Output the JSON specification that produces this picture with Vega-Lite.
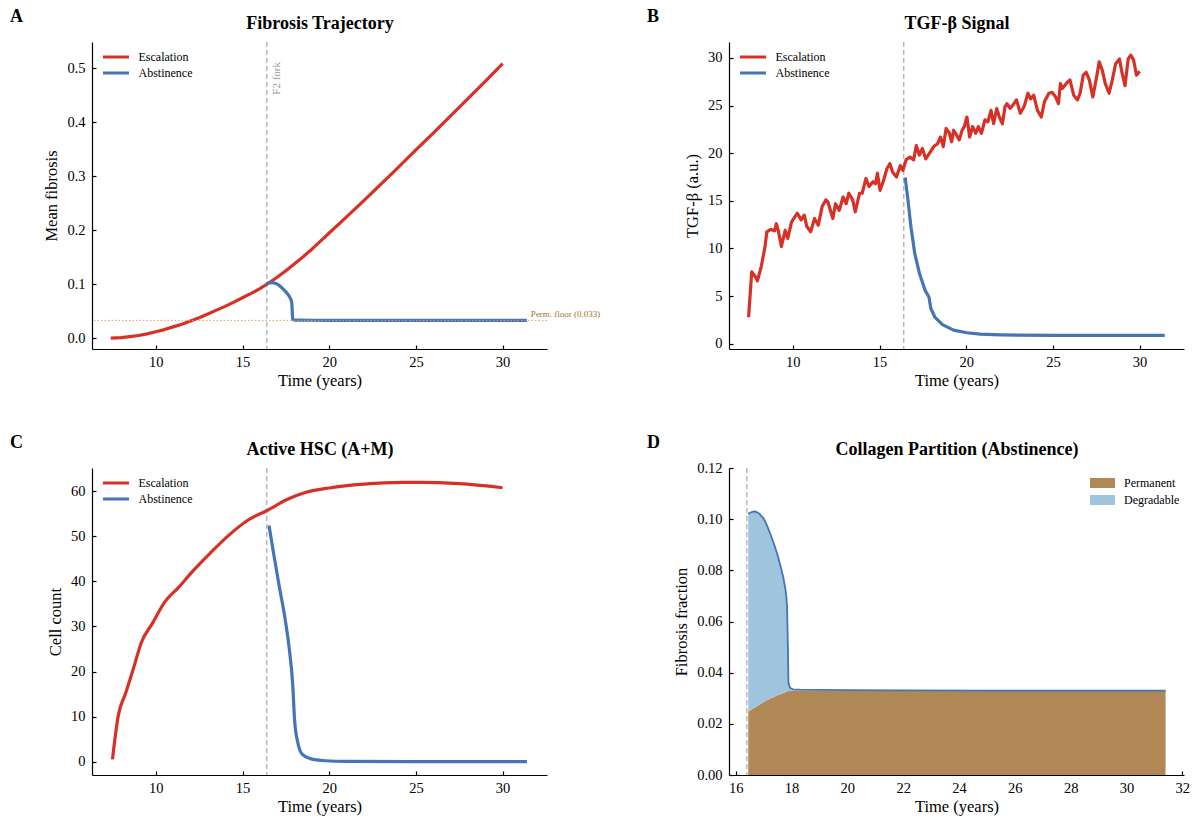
{
  "$schema": "https://vega.github.io/schema/vega-lite/v6.json",
  "background": "white",
  "padding": {"left": 10, "top": 8, "right": 5, "bottom": 5},
  "config": {
    "font": "Liberation Serif",
    "view": {"stroke": null},
    "axis": {"grid": false, "domainColor": "#000000", "domainWidth": 1.2, "tickColor": "#000000", "tickWidth": 1.2, "tickSize": -4, "labelFontSize": 14.5, "labelColor": "#000000", "titleFontSize": 16.5, "titleFontWeight": "normal", "titleColor": "#000000", "labelPadding": 11, "titlePadding": 7},
    "axisX": {"labelPadding": 10, "titlePadding": 4},
    "legend": {"labelFontSize": 12, "labelColor": "#000000"},
    "line": {"strokeJoin": "round"}
  },
  "resolve": {"scale": {"color": "independent"}, "legend": {"color": "independent"}},
  "datasets": {
    "fib": [
      {"t": 7.4, "v": 0.0, "s": "Escalation"}, {"t": 8, "v": 0.001, "s": "Escalation"}, {"t": 8.5, "v": 0.003, "s": "Escalation"}, {"t": 9, "v": 0.005, "s": "Escalation"}, {"t": 9.5, "v": 0.008, "s": "Escalation"}, {"t": 10, "v": 0.012, "s": "Escalation"}, {"t": 10.5, "v": 0.016, "s": "Escalation"}, {"t": 11, "v": 0.021, "s": "Escalation"}, {"t": 11.5, "v": 0.026, "s": "Escalation"}, {"t": 12, "v": 0.032, "s": "Escalation"}, {"t": 12.5, "v": 0.038, "s": "Escalation"}, {"t": 13, "v": 0.045, "s": "Escalation"}, {"t": 13.5, "v": 0.052, "s": "Escalation"}, {"t": 14, "v": 0.059, "s": "Escalation"}, {"t": 14.5, "v": 0.067, "s": "Escalation"}, {"t": 15, "v": 0.075, "s": "Escalation"}, {"t": 15.5, "v": 0.083, "s": "Escalation"}, {"t": 16, "v": 0.092, "s": "Escalation"}, {"t": 16.4, "v": 0.1, "s": "Escalation"}, {"t": 17, "v": 0.113, "s": "Escalation"}, {"t": 17.5, "v": 0.125, "s": "Escalation"}, {"t": 18, "v": 0.138, "s": "Escalation"}, {"t": 18.5, "v": 0.151, "s": "Escalation"}, {"t": 19, "v": 0.165, "s": "Escalation"}, {"t": 19.5, "v": 0.18, "s": "Escalation"}, {"t": 20, "v": 0.195, "s": "Escalation"}, {"t": 21, "v": 0.225, "s": "Escalation"}, {"t": 22, "v": 0.255, "s": "Escalation"}, {"t": 23, "v": 0.286, "s": "Escalation"}, {"t": 24, "v": 0.317, "s": "Escalation"}, {"t": 25, "v": 0.349, "s": "Escalation"}, {"t": 26, "v": 0.38, "s": "Escalation"}, {"t": 27, "v": 0.412, "s": "Escalation"}, {"t": 28, "v": 0.444, "s": "Escalation"}, {"t": 29, "v": 0.476, "s": "Escalation"}, {"t": 30, "v": 0.509, "s": "Escalation"},
      {"t": 16.4, "v": 0.1005, "s": "Abstinence"}, {"t": 16.45, "v": 0.1021, "s": "Abstinence"}, {"t": 16.55, "v": 0.1027, "s": "Abstinence"}, {"t": 16.65, "v": 0.103, "s": "Abstinence"}, {"t": 16.75, "v": 0.1028, "s": "Abstinence"}, {"t": 16.85, "v": 0.1021, "s": "Abstinence"}, {"t": 17.0, "v": 0.1003, "s": "Abstinence"}, {"t": 17.12, "v": 0.0976, "s": "Abstinence"}, {"t": 17.25, "v": 0.094, "s": "Abstinence"}, {"t": 17.39, "v": 0.0897, "s": "Abstinence"}, {"t": 17.5, "v": 0.086, "s": "Abstinence"}, {"t": 17.6, "v": 0.0819, "s": "Abstinence"}, {"t": 17.7, "v": 0.0775, "s": "Abstinence"}, {"t": 17.78, "v": 0.0728, "s": "Abstinence"}, {"t": 17.82, "v": 0.069, "s": "Abstinence"}, {"t": 17.84, "v": 0.066, "s": "Abstinence"}, {"t": 17.87, "v": 0.05, "s": "Abstinence"}, {"t": 17.89, "v": 0.036, "s": "Abstinence"}, {"t": 17.95, "v": 0.034, "s": "Abstinence"}, {"t": 18.05, "v": 0.0335, "s": "Abstinence"}, {"t": 18.3, "v": 0.0334, "s": "Abstinence"}, {"t": 19, "v": 0.0333, "s": "Abstinence"}, {"t": 20, "v": 0.0332, "s": "Abstinence"}, {"t": 22, "v": 0.0331, "s": "Abstinence"}, {"t": 25, "v": 0.033, "s": "Abstinence"}, {"t": 28, "v": 0.033, "s": "Abstinence"}, {"t": 31.4, "v": 0.033, "s": "Abstinence"}
    ],
    "tgf": [
      {"t": 7.45, "v": 2.8, "s": "Escalation"}, {"t": 7.63, "v": 7.55, "s": "Escalation"}, {"t": 7.85, "v": 7.0, "s": "Escalation"}, {"t": 7.96, "v": 6.6, "s": "Escalation"}, {"t": 8.18, "v": 8.1, "s": "Escalation"}, {"t": 8.4, "v": 10.2, "s": "Escalation"}, {"t": 8.5, "v": 11.75, "s": "Escalation"}, {"t": 8.73, "v": 12.0, "s": "Escalation"}, {"t": 8.95, "v": 11.85, "s": "Escalation"}, {"t": 9.05, "v": 12.6, "s": "Escalation"}, {"t": 9.16, "v": 11.9, "s": "Escalation"}, {"t": 9.34, "v": 10.2, "s": "Escalation"}, {"t": 9.56, "v": 11.9, "s": "Escalation"}, {"t": 9.71, "v": 11.05, "s": "Escalation"}, {"t": 9.93, "v": 12.8, "s": "Escalation"}, {"t": 10.26, "v": 13.7, "s": "Escalation"}, {"t": 10.48, "v": 13.0, "s": "Escalation"}, {"t": 10.66, "v": 13.5, "s": "Escalation"}, {"t": 10.81, "v": 12.3, "s": "Escalation"}, {"t": 11.03, "v": 11.75, "s": "Escalation"}, {"t": 11.25, "v": 13.15, "s": "Escalation"}, {"t": 11.47, "v": 12.45, "s": "Escalation"}, {"t": 11.69, "v": 14.4, "s": "Escalation"}, {"t": 11.91, "v": 15.1, "s": "Escalation"}, {"t": 12.02, "v": 14.9, "s": "Escalation"}, {"t": 12.31, "v": 13.15, "s": "Escalation"}, {"t": 12.46, "v": 14.7, "s": "Escalation"}, {"t": 12.68, "v": 14.0, "s": "Escalation"}, {"t": 12.9, "v": 15.4, "s": "Escalation"}, {"t": 13.08, "v": 14.7, "s": "Escalation"}, {"t": 13.23, "v": 15.8, "s": "Escalation"}, {"t": 13.45, "v": 15.1, "s": "Escalation"}, {"t": 13.6, "v": 13.85, "s": "Escalation"}, {"t": 13.85, "v": 15.8, "s": "Escalation"}, {"t": 14.0, "v": 15.8, "s": "Escalation"}, {"t": 14.22, "v": 17.35, "s": "Escalation"}, {"t": 14.4, "v": 16.5, "s": "Escalation"}, {"t": 14.62, "v": 17.0, "s": "Escalation"}, {"t": 14.77, "v": 16.8, "s": "Escalation"}, {"t": 14.88, "v": 17.9, "s": "Escalation"}, {"t": 15.03, "v": 16.1, "s": "Escalation"}, {"t": 15.21, "v": 17.0, "s": "Escalation"}, {"t": 15.43, "v": 18.4, "s": "Escalation"}, {"t": 15.6, "v": 18.9, "s": "Escalation"}, {"t": 15.76, "v": 18.0, "s": "Escalation"}, {"t": 15.98, "v": 17.5, "s": "Escalation"}, {"t": 16.2, "v": 18.7, "s": "Escalation"}, {"t": 16.35, "v": 18.2, "s": "Escalation"}, {"t": 16.53, "v": 19.3, "s": "Escalation"}, {"t": 16.75, "v": 19.6, "s": "Escalation"}, {"t": 16.97, "v": 19.3, "s": "Escalation"}, {"t": 17.12, "v": 20.8, "s": "Escalation"}, {"t": 17.3, "v": 19.8, "s": "Escalation"}, {"t": 17.47, "v": 20.5, "s": "Escalation"}, {"t": 17.67, "v": 19.4, "s": "Escalation"}, {"t": 17.91, "v": 20.1, "s": "Escalation"}, {"t": 18.13, "v": 20.7, "s": "Escalation"}, {"t": 18.35, "v": 21.0, "s": "Escalation"}, {"t": 18.51, "v": 21.7, "s": "Escalation"}, {"t": 18.68, "v": 20.7, "s": "Escalation"}, {"t": 18.84, "v": 22.6, "s": "Escalation"}, {"t": 19.01, "v": 22.2, "s": "Escalation"}, {"t": 19.16, "v": 21.2, "s": "Escalation"}, {"t": 19.27, "v": 22.4, "s": "Escalation"}, {"t": 19.38, "v": 22.1, "s": "Escalation"}, {"t": 19.6, "v": 21.4, "s": "Escalation"}, {"t": 19.76, "v": 22.4, "s": "Escalation"}, {"t": 19.89, "v": 22.8, "s": "Escalation"}, {"t": 20.04, "v": 23.8, "s": "Escalation"}, {"t": 20.2, "v": 21.7, "s": "Escalation"}, {"t": 20.37, "v": 22.8, "s": "Escalation"}, {"t": 20.55, "v": 22.1, "s": "Escalation"}, {"t": 20.7, "v": 22.8, "s": "Escalation"}, {"t": 20.88, "v": 22.1, "s": "Escalation"}, {"t": 21.08, "v": 23.5, "s": "Escalation"}, {"t": 21.25, "v": 23.3, "s": "Escalation"}, {"t": 21.43, "v": 24.5, "s": "Escalation"}, {"t": 21.58, "v": 23.1, "s": "Escalation"}, {"t": 21.76, "v": 24.7, "s": "Escalation"}, {"t": 21.91, "v": 23.8, "s": "Escalation"}, {"t": 22.09, "v": 23.1, "s": "Escalation"}, {"t": 22.24, "v": 24.9, "s": "Escalation"}, {"t": 22.35, "v": 25.2, "s": "Escalation"}, {"t": 22.53, "v": 24.7, "s": "Escalation"}, {"t": 22.75, "v": 25.2, "s": "Escalation"}, {"t": 22.9, "v": 25.6, "s": "Escalation"}, {"t": 23.12, "v": 24.2, "s": "Escalation"}, {"t": 23.34, "v": 24.9, "s": "Escalation"}, {"t": 23.56, "v": 26.3, "s": "Escalation"}, {"t": 23.71, "v": 25.7, "s": "Escalation"}, {"t": 23.89, "v": 26.1, "s": "Escalation"}, {"t": 24.11, "v": 24.5, "s": "Escalation"}, {"t": 24.33, "v": 23.8, "s": "Escalation"}, {"t": 24.51, "v": 25.4, "s": "Escalation"}, {"t": 24.77, "v": 26.3, "s": "Escalation"}, {"t": 24.95, "v": 26.4, "s": "Escalation"}, {"t": 25.16, "v": 25.9, "s": "Escalation"}, {"t": 25.32, "v": 25.2, "s": "Escalation"}, {"t": 25.43, "v": 27.3, "s": "Escalation"}, {"t": 25.54, "v": 26.8, "s": "Escalation"}, {"t": 25.76, "v": 27.3, "s": "Escalation"}, {"t": 25.98, "v": 27.7, "s": "Escalation"}, {"t": 26.2, "v": 26.1, "s": "Escalation"}, {"t": 26.42, "v": 25.6, "s": "Escalation"}, {"t": 26.57, "v": 26.3, "s": "Escalation"}, {"t": 26.75, "v": 28.2, "s": "Escalation"}, {"t": 26.92, "v": 28.5, "s": "Escalation"}, {"t": 27.1, "v": 27.7, "s": "Escalation"}, {"t": 27.3, "v": 25.9, "s": "Escalation"}, {"t": 27.52, "v": 28.0, "s": "Escalation"}, {"t": 27.67, "v": 29.6, "s": "Escalation"}, {"t": 27.85, "v": 28.7, "s": "Escalation"}, {"t": 28.02, "v": 27.3, "s": "Escalation"}, {"t": 28.24, "v": 26.3, "s": "Escalation"}, {"t": 28.4, "v": 27.5, "s": "Escalation"}, {"t": 28.62, "v": 29.4, "s": "Escalation"}, {"t": 28.84, "v": 29.9, "s": "Escalation"}, {"t": 28.99, "v": 28.4, "s": "Escalation"}, {"t": 29.16, "v": 27.1, "s": "Escalation"}, {"t": 29.34, "v": 29.9, "s": "Escalation"}, {"t": 29.49, "v": 30.3, "s": "Escalation"}, {"t": 29.65, "v": 29.8, "s": "Escalation"}, {"t": 29.82, "v": 28.2, "s": "Escalation"}, {"t": 30.0, "v": 28.6, "s": "Escalation"},
      {"t": 16.48, "v": 17.45, "s": "Abstinence"}, {"t": 16.64, "v": 15.1, "s": "Abstinence"}, {"t": 16.81, "v": 12.3, "s": "Abstinence"}, {"t": 17.03, "v": 9.5, "s": "Abstinence"}, {"t": 17.3, "v": 7.4, "s": "Abstinence"}, {"t": 17.63, "v": 5.6, "s": "Abstinence"}, {"t": 17.85, "v": 4.9, "s": "Abstinence"}, {"t": 17.96, "v": 3.7, "s": "Abstinence"}, {"t": 18.19, "v": 2.8, "s": "Abstinence"}, {"t": 18.63, "v": 2.0, "s": "Abstinence"}, {"t": 19.27, "v": 1.43, "s": "Abstinence"}, {"t": 20.04, "v": 1.15, "s": "Abstinence"}, {"t": 20.81, "v": 1.01, "s": "Abstinence"}, {"t": 22, "v": 0.93, "s": "Abstinence"}, {"t": 23, "v": 0.9, "s": "Abstinence"}, {"t": 25, "v": 0.88, "s": "Abstinence"}, {"t": 28, "v": 0.88, "s": "Abstinence"}, {"t": 31.45, "v": 0.88, "s": "Abstinence"}
    ],
    "hsc": [
      {"t": 7.5, "v": 0.5, "s": "Escalation"}, {"t": 7.83, "v": 10.1, "s": "Escalation"}, {"t": 8.27, "v": 15.3, "s": "Escalation"}, {"t": 8.72, "v": 20.8, "s": "Escalation"}, {"t": 9.16, "v": 26.4, "s": "Escalation"}, {"t": 9.82, "v": 30.8, "s": "Escalation"}, {"t": 10.49, "v": 35.3, "s": "Escalation"}, {"t": 11.37, "v": 38.9, "s": "Escalation"}, {"t": 12.04, "v": 41.9, "s": "Escalation"}, {"t": 13.14, "v": 46.3, "s": "Escalation"}, {"t": 14.25, "v": 50.4, "s": "Escalation"}, {"t": 15.35, "v": 53.7, "s": "Escalation"}, {"t": 16.39, "v": 55.7, "s": "Escalation"}, {"t": 17.57, "v": 58.2, "s": "Escalation"}, {"t": 18.67, "v": 59.8, "s": "Escalation"}, {"t": 20.0, "v": 60.75, "s": "Escalation"}, {"t": 22.0, "v": 61.6, "s": "Escalation"}, {"t": 24.2, "v": 62.0, "s": "Escalation"}, {"t": 25.3, "v": 62.0, "s": "Escalation"}, {"t": 27.5, "v": 61.7, "s": "Escalation"}, {"t": 30.0, "v": 60.8, "s": "Escalation"},
      {"t": 16.53, "v": 52.4, "s": "Abstinence"}, {"t": 16.79, "v": 46.3, "s": "Abstinence"}, {"t": 17.12, "v": 38.9, "s": "Abstinence"}, {"t": 17.46, "v": 31.6, "s": "Abstinence"}, {"t": 17.68, "v": 25.6, "s": "Abstinence"}, {"t": 17.9, "v": 16.8, "s": "Abstinence"}, {"t": 18.0, "v": 9.4, "s": "Abstinence"}, {"t": 18.19, "v": 4.2, "s": "Abstinence"}, {"t": 18.45, "v": 1.6, "s": "Abstinence"}, {"t": 18.9, "v": 0.67, "s": "Abstinence"}, {"t": 19.78, "v": 0.2, "s": "Abstinence"}, {"t": 21, "v": 0.05, "s": "Abstinence"}, {"t": 25, "v": 0.0, "s": "Abstinence"}, {"t": 31.4, "v": 0.0, "s": "Abstinence"}
    ],
    "col": [
      {"t": 16.45, "perm": 0.0248, "total": 0.1021}, {"t": 16.55, "perm": 0.0255, "total": 0.1027}, {"t": 16.65, "perm": 0.0262, "total": 0.103}, {"t": 16.75, "perm": 0.0268, "total": 0.1028}, {"t": 16.85, "perm": 0.0275, "total": 0.1021}, {"t": 17.0, "perm": 0.0285, "total": 0.1003}, {"t": 17.12, "perm": 0.0292, "total": 0.0976}, {"t": 17.25, "perm": 0.0299, "total": 0.094}, {"t": 17.39, "perm": 0.0306, "total": 0.0897}, {"t": 17.5, "perm": 0.0312, "total": 0.086}, {"t": 17.6, "perm": 0.0316, "total": 0.0819}, {"t": 17.7, "perm": 0.032, "total": 0.0775}, {"t": 17.78, "perm": 0.0323, "total": 0.0728}, {"t": 17.82, "perm": 0.0325, "total": 0.069}, {"t": 17.84, "perm": 0.0326, "total": 0.066}, {"t": 17.87, "perm": 0.0327, "total": 0.05}, {"t": 17.89, "perm": 0.0328, "total": 0.036}, {"t": 17.95, "perm": 0.0329, "total": 0.034}, {"t": 18.05, "perm": 0.033, "total": 0.0335}, {"t": 18.3, "perm": 0.033, "total": 0.0334}, {"t": 19, "perm": 0.033, "total": 0.0333}, {"t": 20, "perm": 0.0329, "total": 0.0332}, {"t": 22, "perm": 0.0329, "total": 0.0331}, {"t": 25, "perm": 0.0329, "total": 0.033}, {"t": 28, "perm": 0.0328, "total": 0.033}, {"t": 31.4, "perm": 0.0328, "total": 0.033}
    ]
  },
  "columns": 2,
  "bounds": "flush",
  "spacing": {"row": 119, "column": 182},
  "concat": [
    {
      "width": 455, "height": 307,
      "title": {"text": "A", "anchor": "start", "frame": "group", "dx": -82, "dy": 16, "fontSize": 18, "fontWeight": "bold", "color": "#000000"},
      "resolve": {"axis": {"x": "independent", "y": "independent"}},
      "layer": [
        {"data": {"values": [{}]}, "mark": {"type": "rule", "color": "#a8a8a8", "strokeDash": [5, 3], "strokeWidth": 1.2},
         "encoding": {"x": {"datum": 16.4, "type": "quantitative", "scale": {"domain": [6.32, 32.56], "nice": false, "zero": false}, "axis": {"orient": "top", "title": "Fibrosis Trajectory", "labels": false, "ticks": false, "domain": false, "titleFontSize": 18, "titleFontWeight": "bold", "titlePadding": 10}}}},
        {"data": {"name": "fib"}, "mark": {"type": "line", "strokeWidth": 3.2},
         "encoding": {
           "x": {"field": "t", "type": "quantitative", "scale": {"domain": [6.32, 32.56], "nice": false, "zero": false}, "axis": {"title": "Time (years)", "values": [10, 15, 20, 25, 30]}},
           "y": {"field": "v", "type": "quantitative", "scale": {"domain": [-0.02, 0.549], "nice": false, "zero": false}, "axis": {"title": "Mean fibrosis", "values": [0, 0.1, 0.2, 0.3, 0.4, 0.5], "format": ".1f"}},
           "color": {"field": "s", "type": "nominal", "scale": {"domain": ["Escalation", "Abstinence"], "range": ["#d73027", "#4575b4"]}, "legend": {"title": null, "orient": "none", "legendX": 9.5, "legendY": 7, "symbolType": "stroke", "symbolSize": 676, "symbolStrokeWidth": 3, "clipHeight": 16, "rowPadding": 0, "labelOffset": 8}}
         }},
        {"data": {"values": [{}]}, "mark": {"type": "rule", "color": "#dba06a", "strokeDash": [1.5, 2], "strokeWidth": 1},
         "encoding": {"y": {"datum": 0.033, "type": "quantitative", "axis": null}}},
        {"data": {"values": [{}]}, "mark": {"type": "text", "text": "F2 fork", "angle": 270, "align": "right", "baseline": "top", "fontSize": 11, "color": "#999999"},
         "encoding": {"x": {"datum": 16.63, "type": "quantitative", "axis": null}, "y": {"datum": 0.512, "type": "quantitative", "axis": null}}},
        {"data": {"values": [{}]}, "mark": {"type": "text", "text": "Perm. floor (0.033)", "align": "left", "baseline": "alphabetic", "dy": -3, "fontSize": 9, "color": "#a6702a"},
         "encoding": {"x": {"datum": 31.63, "type": "quantitative", "axis": null}, "y": {"datum": 0.033, "type": "quantitative", "axis": null}}}
      ]
    },
    {
      "width": 455, "height": 307,
      "title": {"text": "B", "anchor": "start", "frame": "group", "dx": -82, "dy": 16, "fontSize": 18, "fontWeight": "bold", "color": "#000000"},
      "resolve": {"axis": {"x": "independent", "y": "independent"}},
      "layer": [
        {"data": {"values": [{}]}, "mark": {"type": "rule", "color": "#a8a8a8", "strokeDash": [5, 3], "strokeWidth": 1.2},
         "encoding": {"x": {"datum": 16.4, "type": "quantitative", "scale": {"domain": [6.32, 32.56], "nice": false, "zero": false}, "axis": {"orient": "top", "title": "TGF-β Signal", "labels": false, "ticks": false, "domain": false, "titleFontSize": 18, "titleFontWeight": "bold", "titlePadding": 10}}}},
        {"data": {"name": "tgf"}, "mark": {"type": "line", "strokeWidth": 3.2},
         "encoding": {
           "x": {"field": "t", "type": "quantitative", "scale": {"domain": [6.32, 32.56], "nice": false, "zero": false}, "axis": {"title": "Time (years)", "values": [10, 15, 20, 25, 30]}},
           "y": {"field": "v", "type": "quantitative", "scale": {"domain": [-0.556, 31.68], "nice": false, "zero": false}, "axis": {"title": "TGF-β (a.u.)", "values": [0, 5, 10, 15, 20, 25, 30]}},
           "color": {"field": "s", "type": "nominal", "scale": {"domain": ["Escalation", "Abstinence"], "range": ["#d73027", "#4575b4"]}, "legend": {"title": null, "orient": "none", "legendX": 9.5, "legendY": 7, "symbolType": "stroke", "symbolSize": 676, "symbolStrokeWidth": 3, "clipHeight": 16, "rowPadding": 0, "labelOffset": 8}}
         }}
      ]
    },
    {
      "width": 455, "height": 307,
      "title": {"text": "C", "anchor": "start", "frame": "group", "dx": -82, "dy": 16, "fontSize": 18, "fontWeight": "bold", "color": "#000000"},
      "resolve": {"axis": {"x": "independent", "y": "independent"}},
      "layer": [
        {"data": {"values": [{}]}, "mark": {"type": "rule", "color": "#a8a8a8", "strokeDash": [5, 3], "strokeWidth": 1.2},
         "encoding": {"x": {"datum": 16.4, "type": "quantitative", "scale": {"domain": [6.32, 32.56], "nice": false, "zero": false}, "axis": {"orient": "top", "title": "Active HSC (A+M)", "labels": false, "ticks": false, "domain": false, "titleFontSize": 18, "titleFontWeight": "bold", "titlePadding": 10}}}},
        {"data": {"name": "hsc"}, "mark": {"type": "line", "strokeWidth": 3.2, "interpolate": "monotone"},
         "encoding": {
           "x": {"field": "t", "type": "quantitative", "scale": {"domain": [6.32, 32.56], "nice": false, "zero": false}, "axis": {"title": "Time (years)", "values": [10, 15, 20, 25, 30]}},
           "y": {"field": "v", "type": "quantitative", "scale": {"domain": [-2.97, 65.19], "nice": false, "zero": false}, "axis": {"title": "Cell count", "values": [0, 10, 20, 30, 40, 50, 60]}},
           "color": {"field": "s", "type": "nominal", "scale": {"domain": ["Escalation", "Abstinence"], "range": ["#d73027", "#4575b4"]}, "legend": {"title": null, "orient": "none", "legendX": 9.5, "legendY": 7, "symbolType": "stroke", "symbolSize": 676, "symbolStrokeWidth": 3, "clipHeight": 16, "rowPadding": 0, "labelOffset": 8}}
         }}
      ]
    },
    {
      "width": 455, "height": 307,
      "title": {"text": "D", "anchor": "start", "frame": "group", "dx": -82, "dy": 16, "fontSize": 18, "fontWeight": "bold", "color": "#000000"},
      "resolve": {"axis": {"x": "independent", "y": "independent"}},
      "layer": [
        {"data": {"name": "col"}, "mark": {"type": "area", "opacity": 1},
         "encoding": {
           "x": {"field": "t", "type": "quantitative", "scale": {"domain": [15.76, 32.06], "nice": false, "zero": false}, "axis": {"title": "Time (years)", "values": [16, 18, 20, 22, 24, 26, 28, 30, 32]}},
           "y": {"field": "perm", "type": "quantitative", "scale": {"domain": [0, 0.12], "nice": false, "zero": false}, "axis": {"title": "Fibrosis fraction", "values": [0, 0.02, 0.04, 0.06, 0.08, 0.1, 0.12], "format": ".2f"}},
           "color": {"datum": "Permanent", "type": "nominal", "scale": {"domain": ["Permanent", "Degradable"], "range": ["#b08856", "#9fc5de"]}, "legend": {"title": null, "orient": "none", "legendX": 361, "legendY": 6.6, "symbolType": "M-1,-0.4H1V0.4H-1Z", "symbolSize": 625, "symbolStrokeWidth": 0, "clipHeight": 16.7, "rowPadding": 0, "labelOffset": 9}}
         }},
        {"data": {"name": "col"}, "mark": {"type": "area", "opacity": 1},
         "encoding": {
           "x": {"field": "t", "type": "quantitative", "axis": null},
           "y": {"field": "total", "type": "quantitative", "axis": null},
           "y2": {"field": "perm"},
           "color": {"datum": "Degradable", "type": "nominal"}
         }},
        {"data": {"name": "col"}, "mark": {"type": "line", "color": "#4575b4", "strokeWidth": 1.8},
         "encoding": {
           "x": {"field": "t", "type": "quantitative", "axis": null},
           "y": {"field": "total", "type": "quantitative", "axis": null}
         }},
        {"data": {"values": [{}]}, "mark": {"type": "rule", "color": "#a8a8a8", "strokeDash": [5, 3], "strokeWidth": 1.2},
         "encoding": {"x": {"datum": 16.4, "type": "quantitative", "axis": {"orient": "top", "title": "Collagen Partition (Abstinence)", "labels": false, "ticks": false, "domain": false, "titleFontSize": 18, "titleFontWeight": "bold", "titlePadding": 10}}}}
      ]
    }
  ]
}
